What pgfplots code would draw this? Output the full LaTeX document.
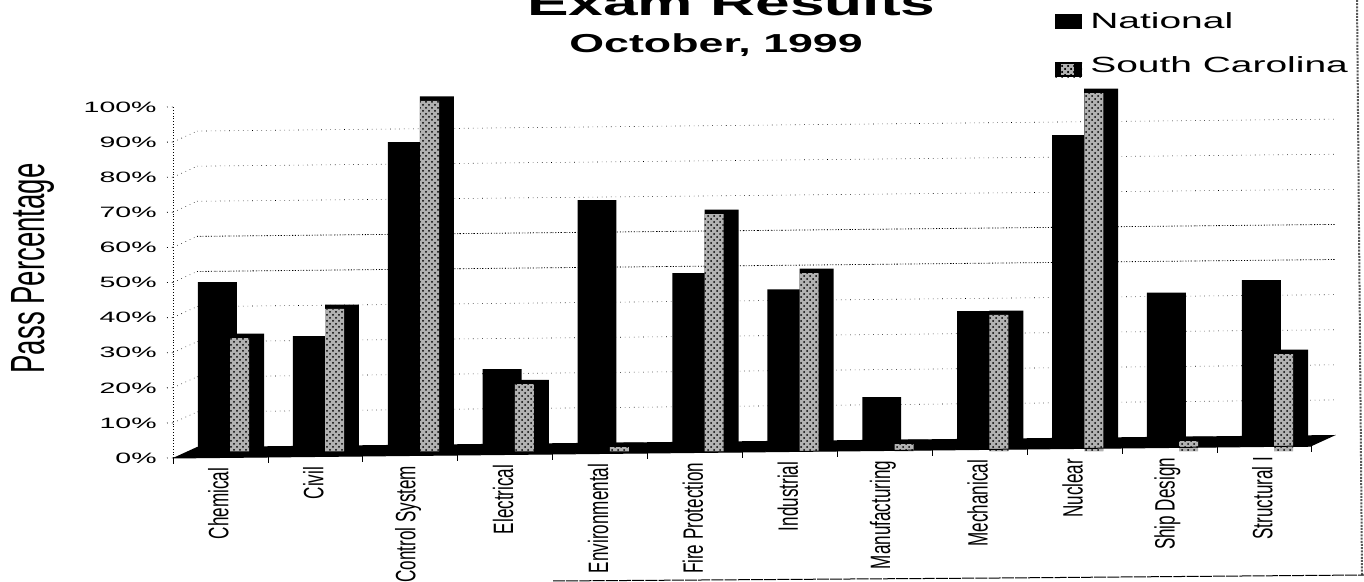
\documentclass[border=0pt]{standalone}
\usepackage{pgfplots}
\usepackage{fontspec}
\setmainfont{Liberation Sans}
\pgfplotsset{compat=1.18}
\usetikzlibrary{patterns}

% one picture pixel is 0.5pt
\pgfplotstableread{
x  nat  sc
0  47.0 32.3
1  31.3 40.3
2  86.3 99.3
3  21.3 18.3
4  69.2 0.1
5  48.1 66.2
6  43.2 49.1
7  12.2 0.1
8  36.4 36.6
9  86.3 99.5
10 41.1 0.1
11 44.4 24.6
}\results

\newcommand{\yl}[1]{\scalebox{1.9}[1]{\fontsize{7.5}{9}\selectfont #1}}
\newcommand{\xl}[1]{\scalebox{0.61}[1]{\fontsize{14}{16}\selectfont #1}}

\pgfplotsset{
  skewed/.style={
    x={(47.45pt,0.5pt)}, y={(0pt,1.755pt)},
    xmin=0, xmax=12, ymin=0, ymax=100,
    clip=false, anchor=south west,
  },
}

\begin{document}
\begin{tikzpicture}[x=0.5pt,y=0.5pt]
\path[use as bounding box] (0,0) rectangle (1364,582);

% back wall, floor and bars
\begin{axis}[skewed, at={(98.5pt,67.5pt)},
    axis line style={draw=none}, tick style={draw=none},
    xtick=\empty, ytick={10,20,...,90}, yticklabels={},
    extra y ticks={50,60}, extra y tick labels={},
    extra y tick style={grid style={black, line width=0.4pt, densely dotted}},
    ymajorgrids, grid style={black, line width=0.3pt, dotted},
    title={\scalebox{1.73}[1]{\fontsize{18}{20}\selectfont\bfseries Exam Results}},
    title style={at={(axis cs:5.63,118)}, anchor=base, inner sep=0pt},
    legend style={at={(axis cs:9.04,121.4)}, anchor=north west, draw=none, fill=none,
      inner sep=0pt, row sep=12.5pt, nodes={inner sep=0pt}},
    legend cell align=left,
  ]
  \pgfplotsinvokeforeach{10,20,...,90}{
    \draw[black, line width=0.3pt, dotted] (axis cs:-0.253,#1-3.06) -- (axis cs:0,#1);
  }
  \addplot[fill=black, draw=none, forget plot]
    coordinates {(0,0) (12,0) (11.747,-3.06) (-0.253,-3.06)} -- cycle;
  \addplot[ybar, bar width=0.41, bar shift=0.215, fill=black, draw=none,
      legend image code/.code={\fill[black] (0pt,-3.5pt) rectangle (13.5pt,4pt);}]
    table[x=x, y=nat] {\results};
  \addplot[ybar, bar width=0.358, bar shift=0.528, fill=black, draw=none, forget plot]
    table[x=x, y=sc] {\results};
  \addplot[ybar, bar width=0.20, bar shift=0.45, yshift=-2.2pt, draw=none, fill=gray!60,
      postaction={pattern=crosshatch dots, pattern color=black},
      legend image code/.code={\fill[black] (0pt,-3.5pt) rectangle (13.5pt,4pt);
        \path[fill=gray!60, postaction={pattern=crosshatch dots, pattern color=black}]
          (3pt,-2.5pt) rectangle (9.5pt,3pt);}]
    table[x=x, y=sc] {\results};
  \legend{\hspace*{4pt}\scalebox{1.77}[1]{\fontsize{11}{13}\selectfont National},
          \hspace*{4pt}\scalebox{1.77}[1]{\fontsize{11}{13}\selectfont South Carolina}}
  \node[anchor=base, inner sep=0pt] at (axis cs:5.47,110.7)
    {\scalebox{1.72}[1]{\fontsize{13}{15}\selectfont\bfseries October, 1999}};
\end{axis}

% front edge with the scale and the category names
\begin{axis}[skewed, at={(86.5pt,62pt)},
    axis x line*=bottom, axis y line*=left, tick align=outside,
    x axis line style={black, line width=0.5pt},
    y axis line style={black, line width=0.4pt, densely dotted},
    xtick={0,1,...,12}, xticklabels={},
    x tick style={black, line width=0.4pt},
    extra x ticks={0.5,1.5,...,11.5},
    extra x tick labels={\xl{Chemical},\xl{Civil},\xl{Control System},\xl{Electrical},
      \xl{Environmental},\xl{Fire Protection},\xl{Industrial},\xl{Manufacturing},
      \xl{Mechanical},\xl{Nuclear},\xl{Ship Design},\xl{Structural I}},
    extra x tick style={major tick length=0pt,
      xticklabel style={rotate=90, anchor=east, inner sep=0pt, xshift=-5pt, yshift=1pt}},
    ytick={0,10,...,100},
    yticklabels={\yl{0\%},\yl{10\%},\yl{20\%},\yl{30\%},\yl{40\%},\yl{50\%},
      \yl{60\%},\yl{70\%},\yl{80\%},\yl{90\%},\yl{100\%}},
    y tick style={black, line width=0.4pt, dotted},
    major tick length=3pt,
    yticklabel style={anchor=east, inner sep=0pt, xshift=-5pt},
    ylabel={\scalebox{0.575}[1]{\fontsize{24}{28}\selectfont Pass Percentage}},
    every axis y label/.style={at={(axis cs:-1.35,54.4)}, rotate=90, anchor=base, inner sep=0pt},
  ]
\end{axis}

% scan edges
\draw[gray!70!black, line width=1pt, dash pattern=on 1pt off 0.6pt] (1357,582) -- (1362,7);
\draw[black, line width=0.5pt, dash pattern=on 6pt off 0.6pt] (553,1) -- (1000,4) -- (1364,7);
\end{tikzpicture}
\end{document}
